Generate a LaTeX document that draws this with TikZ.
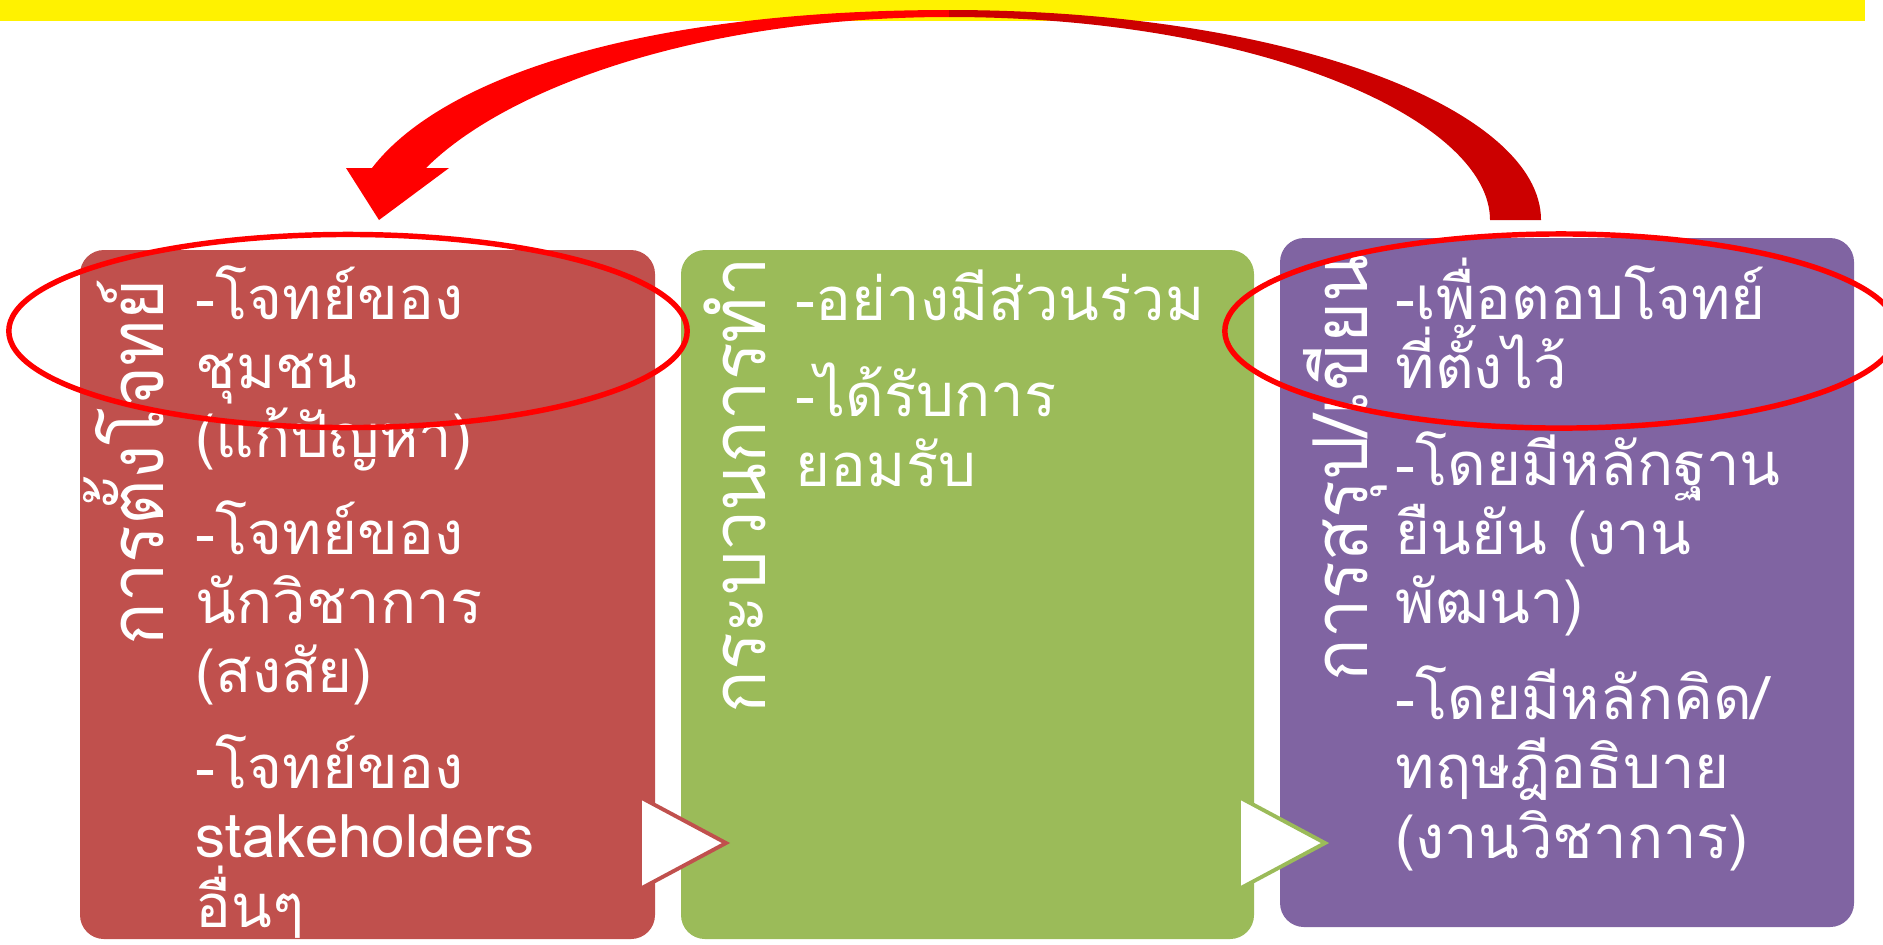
\documentclass[tikz,border=0pt]{standalone}
\usepackage{fontspec}
\newfontfamily\thaifont[Script=Thai]{Loma}
\usepackage{graphicx}
\usepackage{tikz}
\setlength{\lineskiplimit}{-50pt}

\definecolor{boxred}{HTML}{C0504D}
\definecolor{boxgreen}{HTML}{9BBB59}
\definecolor{boxpurple}{HTML}{8064A2}
\definecolor{arrowdark}{HTML}{CC0000}

% titles run narrower than their height
\newcommand{\squeezed}[1]{\scalebox{0.93}[1]{#1}}

\tikzset{
  title/.style={rotate=90, anchor=base west, inner sep=0pt, text=white,
    font=\thaifont\fontsize{21.5}{26}\selectfont},
  body/.style={anchor=base west, inner sep=0pt, align=left, text=white,
    font=\thaifont\fontsize{17}{19.64}\selectfont},
  chevron/.style={fill=white, line width=1.1pt},
  ring/.style={draw=red, line width=1.55pt}
}

\begin{document}
\begin{tikzpicture}[x=0.01cm, y=-0.01cm]
    \useasboundingbox (0,0) rectangle (1883,944);
    \clip (0,0) rectangle (1883,944);

    % Top band
    \fill[yellow] (0,0) rectangle (1865,21);

    % Return arrow
    \fill[red] (949,10) .. controls (640,10) and (441,78) .. (372,168)
        -- (346,168) -- (379,220) -- (449,168) -- (426,168)
        .. controls (506,88) and (700,17) .. (949,17) -- cycle;
    \fill[arrowdark] (949,10) .. controls (1290,10) and (1541,110) .. (1541,220)
        -- (1490,220) .. controls (1490,120) and (1260,17) .. (949,17) -- cycle;

    % Boxes
    \fill[boxred, rounded corners=0.24cm] (80,250) rectangle (655,939);
    \fill[boxgreen, rounded corners=0.24cm] (681,250) rectangle (1254,939);
    \fill[boxpurple, rounded corners=0.24cm] (1280,238) rectangle (1854,927);

    % Chevrons
    \draw[chevron, draw=boxred] (640,797) -- (726,843) -- (640,889) -- cycle;
    \draw[chevron, draw=boxgreen] (1239,797) -- (1325,843) -- (1239,889) -- cycle;

    % Titles
    \node[title] (define) at (163,646) {\squeezed{การตั้งโจทย์}};
    \node[title] (process) at (765,714) {\squeezed{กระบวนการทำ}};
    \node[title] (conclude) at (1367,682) {\squeezed{การสรุป/เขียน}};

    % Items (anchored at the baseline of the last line)
    \node[body] (defineitems) at (195,927)
        {-โจทย์ของ\\ชุมชน\\(แก้ปัญหา)\\[7.82pt]-โจทย์ของ\\นักวิชาการ\\(สงสัย)\\[7.82pt]-โจทย์ของ\\stakeholders\\อื่นๆ};
    \node[body] (processitems) at (795,486)
        {-อย่างมีส่วนร่วม\\[7.82pt]-ได้รับการ\\ยอมรับ};
    \node[body] (concludeitems) at (1395,858)
        {-เพื่อตอบโจทย์\\ที่ตั้งไว้\\[7.82pt]-โดยมีหลักฐาน\\ยืนยัน (งาน\\พัฒนา)\\[7.82pt]-โดยมีหลักคิด/\\ทฤษฎีอธิบาย\\(งานวิชาการ)};

    % Highlights
    \draw[ring] (348,331) ellipse [x radius=3.39cm, y radius=0.965cm];
    \draw[ring] (1561,331) ellipse [x radius=3.36cm, y radius=0.97cm];
\end{tikzpicture}
\end{document}
